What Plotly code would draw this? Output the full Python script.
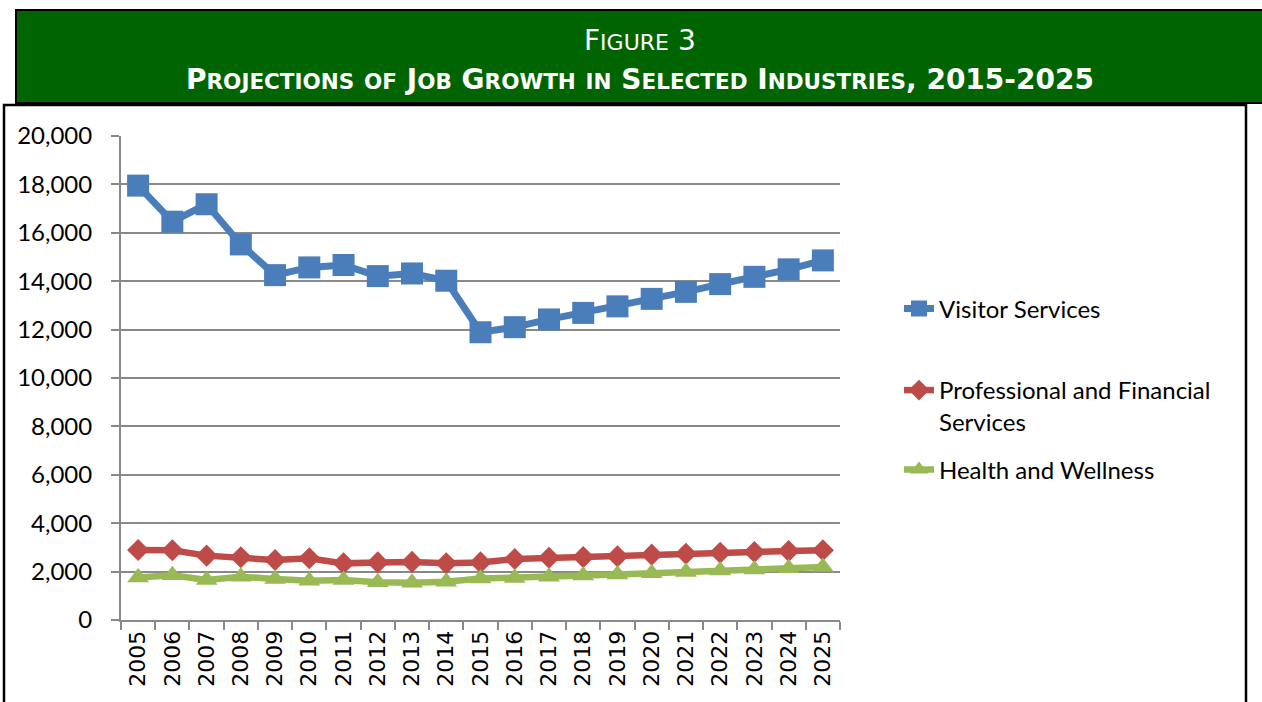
import plotly.graph_objects as go

years = [str(y) for y in range(2005, 2026)]
visitor_services = [17950, 16460, 17180, 15520, 14250, 14570, 14670, 14210, 14320, 14020,
                    11890, 12100, 12420, 12690, 12960, 13270, 13560, 13880, 14180, 14490, 14860]
professional_financial = [2890, 2880, 2660, 2590, 2480, 2550, 2340, 2380, 2400, 2340,
                          2380, 2520, 2570, 2600, 2630, 2700, 2740, 2780, 2810, 2850, 2880]
health_wellness = [1760, 1850, 1650, 1790, 1690, 1620, 1650, 1560, 1540, 1580,
                   1710, 1740, 1790, 1840, 1880, 1930, 1980, 2050, 2090, 2140, 2190]
y_ticks = list(range(0, 20001, 2000))
y_tick_text = [f"{v:,}" for v in y_ticks]

# plot-area geometry in pixels (for placing decorations)
W, H = 1262, 702
L, R, T, B = 121, 840, 136, 620


def px(x):
    return (x - L) / (R - L)


def py(y):
    return (B - y) / (B - T)


def small_caps(text, big, small):
    out = []
    for ch in text:
        if ch.islower():
            out.append(f'<span style="font-size:{small}px">{ch.upper()}</span>')
        else:
            out.append(f'<span style="font-size:{big}px">{ch}</span>')
    return "".join(out)


fig = go.Figure()

fig.add_trace(go.Scatter(
    x=years, y=visitor_services, name="Visitor Services", mode="lines+markers",
    line=dict(color="#4A7EBB", width=7),
    marker=dict(symbol="square", size=22, color="#4A7EBB"),
    legend="legend",
))
fig.add_trace(go.Scatter(
    x=years, y=professional_financial, name="Professional and Financial<br>Services",
    mode="lines+markers",
    line=dict(color="#BE4B48", width=6.5),
    marker=dict(symbol="diamond", size=17, color="#BE4B48"),
    legend="legend2",
))
fig.add_trace(go.Scatter(
    x=years, y=health_wellness, name="Health and Wellness", mode="lines+markers",
    line=dict(color="#98B954", width=6.5),
    marker=dict(symbol="triangle-up", size=19, color="#98B954"),
    legend="legend3",
))

grid_col = "#898989"
fig.update_xaxes(
    type="category", categoryorder="array", categoryarray=years,
    range=[-0.5, len(years) - 0.5],
    tickangle=-90, tickson="boundaries", ticks="outside", ticklen=8,
    tickcolor=grid_col, tickwidth=1.5,
    showline=True, linecolor=grid_col, linewidth=2, showgrid=False,
    tickfont=dict(family="DejaVu Sans", size=22, color="black"),
    fixedrange=True,
)
fig.update_yaxes(
    range=[0, 20000], tickvals=y_ticks, ticktext=y_tick_text,
    ticks="outside", ticklen=8, tickcolor=grid_col, tickwidth=2,
    showline=True, linecolor=grid_col, linewidth=2,
    showgrid=True, gridcolor=grid_col, gridwidth=2, zeroline=False,
    tickfont=dict(family="Lato", size=24, color="black"),
    ticklabelstandoff=14,
    fixedrange=True,
)

legend_common = dict(
    xref="container", yref="container", x=899 / W, xanchor="left", yanchor="middle",
    font=dict(family="Lato", size=24, color="black"), bgcolor="rgba(0,0,0,0)",
    borderwidth=0, valign="top", itemclick=False, itemdoubleclick=False,
)

shapes = [
    # outer chart border
    dict(type="rect", xref="paper", yref="paper",
         x0=px(4), x1=px(1246), y0=py(712), y1=py(105),
         line=dict(color="black", width=2.5), fillcolor="rgba(0,0,0,0)", layer="below"),
    # green header banner
    dict(type="rect", xref="paper", yref="paper",
         x0=px(16), x1=px(1270), y0=py(103), y1=py(10),
         line=dict(color="black", width=2), fillcolor="#006400", layer="below"),
]

annotations = [
    dict(text=small_caps("Figure 3", 28, 22), xref="paper", yref="paper",
         x=px(640), y=py(40), showarrow=False, xanchor="center", yanchor="middle",
         font=dict(family="DejaVu Sans", color="white")),
    dict(text="<b>" + small_caps("Projections of Job Growth in Selected Industries, 2015-2025", 28, 21.5) + "</b>",
         xref="paper", yref="paper",
         x=px(640), y=py(80), showarrow=False, xanchor="center", yanchor="middle",
         font=dict(family="DejaVu Sans", color="white")),
]

fig.update_layout(
    width=W, height=H,
    margin=dict(l=L, r=W - R, t=T, b=H - B),
    paper_bgcolor="white", plot_bgcolor="white",
    showlegend=True,
    legend=dict(legend_common, y=1 - 309 / H),
    legend2=dict(legend_common, y=1 - 406 / H),
    legend3=dict(legend_common, y=1 - 470 / H),
    shapes=shapes,
    annotations=annotations,
)

fig.write_html("out.html", config={"displayModeBar": False})
